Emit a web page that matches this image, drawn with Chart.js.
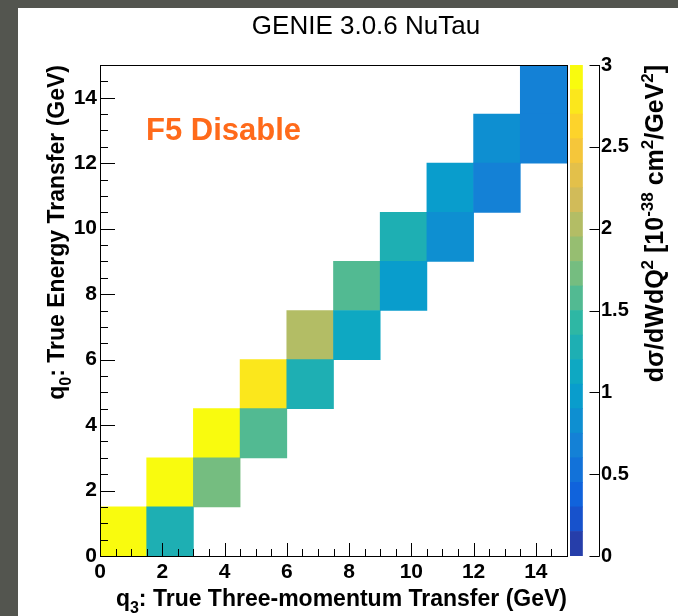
<!DOCTYPE html>
<html>
<head>
<meta charset="utf-8">
<title>GENIE 3.0.6 NuTau</title>
<script src="https://cdn.jsdelivr.net/npm/chart.js@4.4.1/dist/chart.umd.min.js"></script>
<style>
  html, body { margin: 0; padding: 0; background: #53554f; overflow: hidden; }
  #pad { position: absolute; left: 18px; top: 8px; width: 660px; height: 608px; background: #fff; }
  #main { position: absolute; left: 0; top: 0; }
  #zbar { position: absolute; left: 540px; top: 0; }
</style>
</head>
<body>
<div id="pad"></div>
<canvas id="main" width="678" height="616"></canvas>
<canvas id="zbar" width="138" height="616"></canvas>
<script>
// bin edges for both q3 (x) and q0 (y), GeV
const binEdges = [0, 1.5, 3, 4.5, 6, 7.5, 9, 10.5, 12, 13.5, 15];
// cells where q3 bin == q0 bin
const diagValues = [3.2, 3.1, 3.1, 2.8, 2.0, 1.55, 1.25, 0.95, 0.8, 0.65];
// cells one bin to the right (q3 bin = i+1, q0 bin = i)
const lowerValues = [1.25, 1.7, 1.55, 1.25, 1.1, 0.95, 0.8, 0.65, 0.65];

const xTickValues = [0, 2, 4, 6, 8, 10, 12, 14];
const yTickValues = [0, 2, 4, 6, 8, 10, 12, 14];
const zTickValues = [0, 0.5, 1, 1.5, 2, 2.5, 3];
// contour levels of the colour scale
const zLevels = [0, 0.15, 0.3, 0.45, 0.6, 0.75, 0.9, 1.05, 1.2, 1.35, 1.5,
                 1.65, 1.8, 1.95, 2.1, 2.25, 2.4, 2.55, 2.7, 2.85, 3.0];

const FONT = '"Liberation Sans", Arial, Helvetica, sans-serif';

// ROOT kBird palette
const birdStops = [0, 0.125, 0.25, 0.375, 0.5, 0.625, 0.75, 0.875, 1];
const birdR = [0.2082, 0.0592, 0.0780, 0.0232, 0.1802, 0.5301, 0.8186, 0.9956, 0.9764];
const birdG = [0.1664, 0.3599, 0.5041, 0.6419, 0.7178, 0.7492, 0.7328, 0.7862, 0.9832];
const birdB = [0.5293, 0.8684, 0.8385, 0.7914, 0.6425, 0.4662, 0.3499, 0.1968, 0.0539];

function bird(f) {
  f = Math.max(0, Math.min(1, f));
  let i = 0;
  while (i < birdStops.length - 2 && f > birdStops[i + 1]) i++;
  const t = (f - birdStops[i]) / (birdStops[i + 1] - birdStops[i]);
  const c = (a) => Math.round(255 * (a[i] + (a[i + 1] - a[i]) * t));
  return `rgb(${c(birdR)},${c(birdG)},${c(birdB)})`;
}
function levelColor(k) {
  const n = zLevels.length - 1;
  return bird((Math.min(k, n - 1) + 1) / n);
}
function valueColor(v) {
  let k = 0;
  while (k < zLevels.length - 2 && v >= zLevels[k + 1]) k++;
  return levelColor(k);
}

const cells = [];
diagValues.forEach((v, i) => {
  cells.push({ x: (binEdges[i] + binEdges[i + 1]) / 2, y: [binEdges[i], binEdges[i + 1]], v });
});
lowerValues.forEach((v, i) => {
  cells.push({ x: (binEdges[i + 1] + binEdges[i + 2]) / 2, y: [binEdges[i], binEdges[i + 1]], v });
});

// text with sub/superscripts, right-aligned at (x, y), optionally rotated
function drawRich(ctx, parts, x, y, angle, size) {
  ctx.save();
  ctx.translate(x, y);
  ctx.rotate(angle);
  ctx.fillStyle = '#000';
  ctx.textBaseline = 'alphabetic';
  ctx.textAlign = 'left';
  const fonts = parts.map((p) => `bold ${p[1] ? Math.round(size * 0.68) : size}px ${FONT}`);
  let w = 0;
  parts.forEach((p, i) => { ctx.font = fonts[i]; w += ctx.measureText(p[0]).width; });
  let cx = -w;
  parts.forEach((p, i) => {
    ctx.font = fonts[i];
    const dy = p[1] === 'sub' ? size * 0.3 : p[1] === 'sup' ? -size * 0.42 : 0;
    ctx.fillText(p[0], cx, dy);
    cx += ctx.measureText(p[0]).width;
  });
  ctx.restore();
}

const rootFrame = {
  id: 'rootFrame',
  afterDatasetsDraw(chart) {
    const { ctx, chartArea: a, scales } = chart;
    ctx.save();
    ctx.strokeStyle = '#000';
    ctx.lineWidth = 1;
    ctx.beginPath();
    for (let k = 0; k < 30; k++) {
      const v = k * 0.5;
      const major = v % 2 === 0;
      const px = Math.round(scales.x.getPixelForValue(v)) + 0.5;
      ctx.moveTo(px, a.bottom);
      ctx.lineTo(px, a.bottom - (major ? 13 : 7));
      const py = Math.round(scales.y.getPixelForValue(v)) + 0.5;
      ctx.moveTo(a.left, py);
      ctx.lineTo(a.left + (major ? 15 : 8), py);
    }
    ctx.stroke();
    ctx.strokeRect(Math.round(a.left) + 0.5, Math.round(a.top) + 0.5,
      Math.round(a.right - a.left), Math.round(a.bottom - a.top));
    ctx.restore();
  },
  afterDraw(chart) {
    const { ctx } = chart;
    ctx.save();
    ctx.fillStyle = '#000';
    ctx.font = `26px ${FONT}`;
    ctx.textAlign = 'center';
    ctx.textBaseline = 'alphabetic';
    ctx.fillText('GENIE 3.0.6 NuTau', 366, 34);
    ctx.fillStyle = '#ff6a1a';
    ctx.font = `bold 31px ${FONT}`;
    ctx.textAlign = 'left';
    ctx.fillText('F5 Disable', 146, 140);
    ctx.restore();
    drawRich(ctx, [['q'], ['3', 'sub'], [': True Three-momentum Transfer (GeV)']], 567, 606, 0, 23);
    drawRich(ctx, [['q'], ['0', 'sub'], [': True Energy Transfer (GeV)']], 64, 65, -Math.PI / 2, 23);
  }
};

const tickFont = { family: FONT, size: 21, weight: 'bold' };

new Chart(document.getElementById('main'), {
  type: 'bar',
  data: {
    datasets: [{
      data: cells,
      backgroundColor: cells.map((c) => valueColor(c.v)),
      borderWidth: 0,
      barPercentage: 1,
      categoryPercentage: 1
    }]
  },
  options: {
    responsive: false,
    animation: false,
    layout: { padding: { left: 20, right: 111, top: 65, bottom: 20 } },
    plugins: { legend: { display: false }, tooltip: { enabled: false } },
    scales: {
      x: {
        type: 'linear', min: 0, max: 15, offset: false,
        grid: { display: false, drawTicks: false }, border: { display: false },
        afterBuildTicks: (s) => { s.ticks = xTickValues.map((v) => ({ value: v })); },
        afterFit: (s) => { s.height = 40; },
        ticks: { font: tickFont, color: '#000', padding: 4, autoSkip: false, maxRotation: 0, callback: (v) => String(v) }
      },
      y: {
        type: 'linear', min: 0, max: 15,
        grid: { display: false, drawTicks: false }, border: { display: false },
        afterBuildTicks: (s) => { s.ticks = yTickValues.map((v) => ({ value: v })); },
        afterFit: (s) => { s.width = 80; },
        ticks: { font: tickFont, color: '#000', padding: 3, autoSkip: false, callback: (v) => String(v) }
      }
    }
  },
  plugins: [rootFrame]
});

const zAxisDeco = {
  id: 'zAxisDeco',
  afterDraw(chart) {
    const { ctx, chartArea: a, scales } = chart;
    const ax = 59.5;
    ctx.save();
    ctx.strokeStyle = '#000';
    ctx.lineWidth = 1;
    ctx.beginPath();
    ctx.moveTo(ax, a.top);
    ctx.lineTo(ax, a.bottom + 0.5);
    zTickValues.forEach((v) => {
      const py = Math.round(scales.y.getPixelForValue(v)) + 0.5;
      ctx.moveTo(ax, py);
      ctx.lineTo(ax - 10, py);
    });
    ctx.stroke();
    ctx.restore();
    drawRich(ctx, [['dσ/dWdQ'], ['2', 'sup'], [' [10'], ['-38', 'sup'], [' cm'], ['2', 'sup'], ['/GeV'], ['2', 'sup'], [']']],
      123, 65, -Math.PI / 2, 25);
  }
};

new Chart(document.getElementById('zbar'), {
  type: 'bar',
  data: {
    labels: ['z'],
    datasets: zLevels.slice(0, -1).map((lo, k) => ({
      data: [[lo, zLevels[k + 1]]],
      backgroundColor: levelColor(k),
      borderWidth: 0,
      grouped: false,
      barPercentage: 1,
      categoryPercentage: 1
    }))
  },
  options: {
    responsive: false,
    animation: false,
    layout: { padding: { left: 30, right: 0, top: 65, bottom: 60 } },
    plugins: { legend: { display: false }, tooltip: { enabled: false } },
    scales: {
      x: { display: false, offset: false },
      y: {
        position: 'right', min: 0, max: 3,
        grid: { display: false, drawTicks: false }, border: { display: false },
        afterBuildTicks: (s) => { s.ticks = zTickValues.map((v) => ({ value: v })); },
        afterFit: (s) => { s.width = 83; },
        ticks: { font: { family: FONT, size: 20, weight: 'bold' }, color: '#000', padding: 6, callback: (v) => String(v) }
      }
    }
  },
  plugins: [zAxisDeco]
});
</script>
</body>
</html>
